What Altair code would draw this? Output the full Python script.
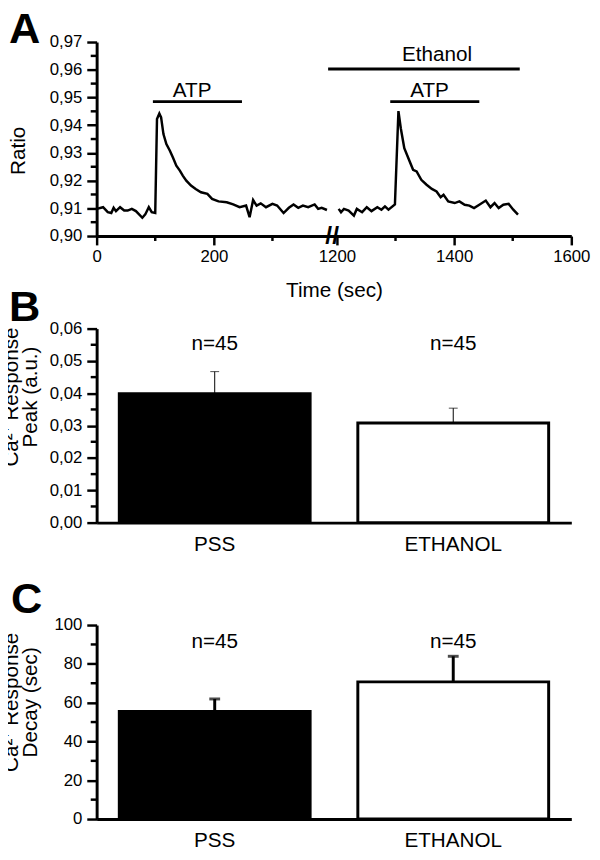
import altair as alt
import pandas as pd

FONT = "Liberation Sans"

# ---------------- Panel A: ratio trace ----------------
left_t = [0, 11, 19, 25, 29, 33, 40, 47, 53, 60, 67, 78, 83, 89, 94, 100, 103, 107, 110, 114,
          119, 125, 130, 136, 142, 147, 153, 161, 169, 178, 189, 197, 208, 222, 233, 244, 255, 261, 267, 273,
          280, 289, 300, 308, 319, 328, 336, 344, 352, 361, 372, 378, 384, 393]
left_ratio = [0.9098, 0.9104, 0.9086, 0.9083, 0.9102, 0.9090, 0.9104, 0.9092, 0.9092, 0.9098,
              0.9090, 0.9066, 0.9078, 0.9104, 0.9086, 0.9083, 0.9422, 0.9442, 0.9428, 0.9368,
              0.9332, 0.9308, 0.9284, 0.9254, 0.9236, 0.9218, 0.9200, 0.9182, 0.9170, 0.9158,
              0.9152, 0.9134, 0.9125, 0.9122, 0.9114, 0.9104, 0.9110, 0.9068, 0.9130, 0.9110,
              0.9118, 0.9104, 0.9116, 0.9110, 0.9083, 0.9102, 0.9114, 0.9102, 0.9110, 0.9104,
              0.9114, 0.9098, 0.9102, 0.9094]
right_t = [1203, 1207, 1212, 1220, 1229, 1234, 1243, 1251, 1259, 1269,
           1276, 1282, 1288, 1299, 1305, 1309, 1315, 1323, 1330, 1336,
           1344, 1353, 1362, 1370, 1377, 1382, 1390, 1401, 1409, 1418,
           1426, 1434, 1443, 1454, 1462, 1469, 1476, 1484, 1493, 1501, 1509]
right_ratio = [0.9098, 0.9086, 0.9098, 0.9092, 0.9074, 0.9098, 0.9086, 0.9104, 0.9090, 0.9104,
               0.9095, 0.9107, 0.9095, 0.9114, 0.9451, 0.9389, 0.9317, 0.9275, 0.9239, 0.9233,
               0.9203, 0.9185, 0.9170, 0.9161, 0.9140, 0.9149, 0.9125, 0.9119, 0.9125, 0.9113,
               0.9110, 0.9101, 0.9113, 0.9128, 0.9104, 0.9119, 0.9101, 0.9113, 0.9116, 0.9095,
               0.9077]

stim_label = ["ATP", "ATP", "Ethanol"]
stim_start = [96, 1291, 1185]
stim_end = [248, 1443, 1512]
stim_level = [0.9485, 0.9485, 0.9603]
stim_text_t = [163, 1358, 1371]
stim_text_level = [0.9523, 0.9523, 0.9653]

x_major_sec = [0, 200, 1200, 1400, 1600]
x_minor_sec = [100, 300, 1300, 1500]
break_sec = 402
y_major_A = [0.90, 0.91, 0.92, 0.93, 0.94, 0.95, 0.96, 0.97]
y_minor_A = [0.905, 0.915, 0.925, 0.935, 0.945, 0.955, 0.965]

# ---------------- Panels B and C ----------------
cats = ["PSS", "ETHANOL"]
peak_mean = [0.0399, 0.0308]
peak_err = [0.0068, 0.0046]
decay_mean = [55.4, 70.7]
decay_err = [6.5, 13.2]
n_text = ["n=45", "n=45"]
peak_n_level = 0.0552
decay_n_level = 91.2
y_major_B = [0.00, 0.01, 0.02, 0.03, 0.04, 0.05, 0.06]
y_minor_B = [0.005, 0.015, 0.025, 0.035, 0.045, 0.055]
y_major_C = [0, 20, 40, 60, 80, 100]
y_minor_C = [10, 30, 50, 70, 90]

# time-axis break: the 1200-1600 s segment is drawn right after ~400 s
SHIFT = 790


def disp(t):
    return t if t < 800 else t - SHIFT


W, H = 482, 197
TW = 2.5

dfA = pd.DataFrame({
    "t": left_t + right_t,
    "ratio": left_ratio + right_ratio,
    "seg": ["pss"] * len(left_t) + ["eth"] * len(right_t),
})
dfA["d"] = dfA["t"].map(disp)

dfS = pd.DataFrame({"label": stim_label, "s": stim_start, "e": stim_end, "lvl": stim_level,
                    "tt": stim_text_t, "tl": stim_text_level})
dfS["d"] = dfS["s"].map(disp)
dfS["d2"] = dfS["e"].map(disp)
dfS["td"] = dfS["tt"].map(disp)

major_disp = [disp(t) for t in x_major_sec]
label_expr = " : ".join(f"datum.value == {disp(t)} ? '{t}'" for t in x_major_sec) + " : ''"

xscaleA = alt.Scale(domain=[0, disp(1600)], nice=False, zero=False)
yscaleA = alt.Scale(domain=[0.90, 0.97], nice=False, zero=False)

axisXA = alt.Axis(values=major_disp, labelExpr=label_expr, title="Time (sec)",
                  tickSize=9, labelPadding=4, titlePadding=15, labelOverlap=False,
                  labelFlush=False)
axisYA = alt.Axis(values=y_major_A,
                  labelExpr="replace(format(datum.value, '.2f'), '.', ',')",
                  tickSize=10, labelPadding=5, labelOverlap=False, labelFlush=False,
                  title="Ratio", titleAngle=270, titleAlign="center",
                  titleBaseline="alphabetic", titleX=-73, titleY=110)


def XA(f):
    return alt.X(f, scale=xscaleA, axis=axisXA)


def YA(f):
    return alt.Y(f, scale=yscaleA, axis=axisYA)


trace = alt.Chart(dfA).mark_line(color="black", strokeWidth=2.5).encode(
    x=XA("d:Q"), y=YA("ratio:Q"), detail="seg:N")

stims = alt.Chart(dfS).mark_rule(color="black", strokeWidth=3).encode(
    x=XA("d:Q"), x2="d2:Q", y=YA("lvl:Q"))
stim_txt = alt.Chart(dfS).mark_text(fontSize=21, baseline="middle", color="black").encode(
    x=XA("td:Q"), y=YA("tl:Q"), text="label:N")

dfBrk = pd.DataFrame({"d": [disp(break_sec)], "r": [0.90], "s": ["//"]})
brk = alt.Chart(dfBrk).mark_text(fontSize=25, fontWeight="bold", baseline="middle", color="black").encode(
    x=XA("d:Q"), y=YA("r:Q"), text="s:N")

minorxA = alt.Chart(pd.DataFrame({"d": [disp(t) for t in x_minor_sec]})).mark_rule(
    color="black", strokeWidth=TW).encode(
    x=XA("d:Q"), y=alt.value(H), y2=alt.value(H + 5))
minoryA = alt.Chart(pd.DataFrame({"v": y_minor_A})).mark_rule(
    color="black", strokeWidth=TW).encode(
    y=YA("v:Q"), x=alt.value(0), x2=alt.value(-6))


def letter(ch, dx, dy):
    return alt.Chart(pd.DataFrame({"L": [ch]})).mark_text(
        fontSize=44, fontWeight="bold", align="left", baseline="alphabetic", color="black"
    ).encode(text="L:N", x=alt.value(dx), y=alt.value(dy))


panelA = alt.layer(trace, stims, stim_txt, minorxA, minoryA, brk, letter("A", -89, 1)).properties(
    width=W, height=H)


def bar_panel(mean, err, n_level, domain, major, minor, label_expr, title, ltr, ldx, ldy, ew,
              title_y, top_gap):
    h = H + top_gap
    df = pd.DataFrame({"cat": cats, "mean": mean, "top": [m + e for m, e in zip(mean, err)],
                       "n": n_text, "nl": [n_level] * len(cats)})
    yscale = alt.Scale(domain=domain, nice=False, zero=True, range=[h, top_gap])
    xscale = alt.Scale(paddingInner=0.2, paddingOuter=0.095)
    xaxis = alt.Axis(title=None, labelAngle=0, ticks=False, labelFontSize=21,
                     labelBaseline="alphabetic", labelPadding=28, labelOverlap=False)
    yaxis = alt.Axis(values=major, labelExpr=label_expr, tickSize=10,
                     labelPadding=5, labelOverlap=False, labelFlush=False,
                     title=title, titleAngle=270, titleAlign="center",
                     titleBaseline="alphabetic", titleX=-80, titleY=title_y + top_gap,
                     titleLineHeight=19)

    def X():
        return alt.X("cat:N", sort=cats, scale=xscale, axis=xaxis)

    def Y(f):
        return alt.Y(f, scale=yscale, axis=yaxis)

    bars = alt.Chart(df).mark_bar(stroke="black", strokeWidth=3).encode(
        x=X(), y=Y("mean:Q"),
        fill=alt.Fill("cat:N", scale=alt.Scale(domain=cats, range=["black", "white"]), legend=None))
    rule = alt.Chart(df).mark_rule(color="black", strokeWidth=ew).encode(
        x=X(), y=Y("mean:Q"), y2="top:Q")
    cap = alt.Chart(df).mark_tick(color="black", thickness=ew, size=9 if ew < 2 else 11).encode(
        x=X(), y=Y("top:Q"))
    ntxt = alt.Chart(df).mark_text(fontSize=21, baseline="middle", color="black").encode(
        x=X(), y=Y("nl:Q"), text="n:N")
    minor_y = alt.Chart(pd.DataFrame({"v": minor})).mark_rule(color="black", strokeWidth=TW).encode(
        y=Y("v:Q"), x=alt.value(0), x2=alt.value(-6))
    return alt.layer(bars, rule, cap, ntxt, minor_y, letter(ltr, ldx, ldy + top_gap)).properties(
        width=W, height=h)


panelB = bar_panel(peak_mean, peak_err, peak_n_level, [0, 0.06], y_major_B, y_minor_B,
                   "replace(format(datum.value, '.2f'), '.', ',')",
                   ["Ca\u00b2\u207a Response", "Peak (a.u.)"], "B", -89, -8, 1, 69, 0)
panelC = bar_panel(decay_mean, decay_err, decay_n_level, [0, 100], y_major_C, y_minor_C,
                   "format(datum.value, 'd')",
                   ["Ca\u00b2\u207a Response", "Decay (sec)"], "C", -87, -12, 3, 78, 10)

chart = alt.vconcat(panelA, panelB, panelC, spacing=94, bounds="flush").properties(
    padding={"left": -7, "top": -6, "right": 2, "bottom": 2}
).configure(font=FONT).configure_view(stroke=None).configure_axis(
    domainColor="black", domainWidth=3, tickColor="black", tickWidth=TW,
    labelFont=FONT, labelFontSize=17, labelColor="black",
    titleFont=FONT, titleFontSize=21, titleFontWeight="normal", titleColor="black",
    grid=False, labelFlush=False, labelOverlap=False
)

chart.save("out.html", embed_options={"renderer": "svg", "actions": False})
